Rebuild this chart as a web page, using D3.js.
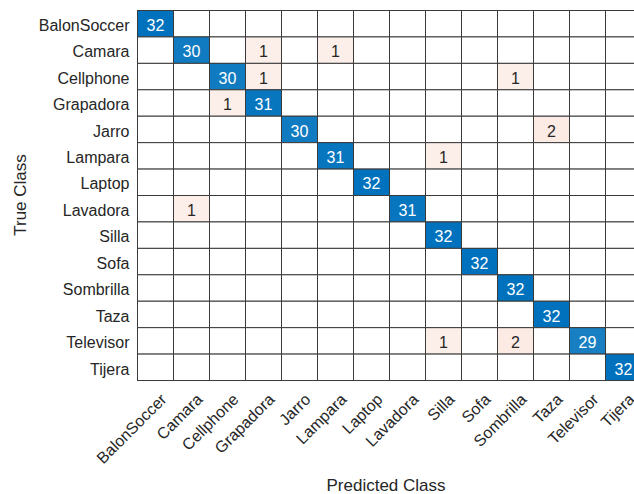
<!DOCTYPE html>
<html>
<head>
<meta charset="utf-8">
<script src="https://cdn.jsdelivr.net/npm/d3@7"></script>
<style>
body{margin:0;background:#fff;}
svg{display:block;}
text{font-family:"Liberation Sans",Arial,Helvetica,sans-serif;}
</style>
</head>
<body>
<svg id="c" width="634" height="494"></svg>
<script>
const classes = ["BalonSoccer","Camara","Cellphone","Grapadora","Jarro","Lampara","Laptop","Lavadora","Silla","Sofa","Sombrilla","Taza","Televisor","Tijera"];
const rowBalonSoccer = [32,0,0,0,0,0,0,0,0,0,0,0,0,0];
const rowCamara      = [0,30,0,1,0,1,0,0,0,0,0,0,0,0];
const rowCellphone   = [0,0,30,1,0,0,0,0,0,0,1,0,0,0];
const rowGrapadora   = [0,0,1,31,0,0,0,0,0,0,0,0,0,0];
const rowJarro       = [0,0,0,0,30,0,0,0,0,0,0,2,0,0];
const rowLampara     = [0,0,0,0,0,31,0,0,1,0,0,0,0,0];
const rowLaptop      = [0,0,0,0,0,0,32,0,0,0,0,0,0,0];
const rowLavadora    = [0,1,0,0,0,0,0,31,0,0,0,0,0,0];
const rowSilla       = [0,0,0,0,0,0,0,0,32,0,0,0,0,0];
const rowSofa        = [0,0,0,0,0,0,0,0,0,32,0,0,0,0];
const rowSombrilla   = [0,0,0,0,0,0,0,0,0,0,32,0,0,0];
const rowTaza        = [0,0,0,0,0,0,0,0,0,0,0,32,0,0];
const rowTelevisor   = [0,0,0,0,0,0,0,0,1,0,2,0,29,0];
const rowTijera      = [0,0,0,0,0,0,0,0,0,0,0,0,0,32];
const counts = [rowBalonSoccer,rowCamara,rowCellphone,rowGrapadora,rowJarro,rowLampara,rowLaptop,rowLavadora,rowSilla,rowSofa,rowSombrilla,rowTaza,rowTelevisor,rowTijera];

const svg = d3.select("#c");
const mLeft = 137.5, mTop = 10.5, cw = 36, ch = 26.43;
const x = d3.scaleBand().domain(classes).range([mLeft, mLeft + cw*classes.length]);
const y = d3.scaleBand().domain(classes).range([mTop, mTop + ch*classes.length]);

const diagColor = d3.scaleLinear().domain([0,32]).range(["#ffffff","#0072bd"]);
const offColor = d3.scaleLinear().domain([0,1,2]).range(["#ffffff","#fcefe9","#fbebe4"]);

const cells = [];
counts.forEach((row,i)=>row.forEach((v,j)=>cells.push({t:classes[i],p:classes[j],v,diag:i===j})));

const g = svg.append("g");
g.selectAll("rect").data(cells).join("rect")
  .attr("x",d=>x(d.p)).attr("y",d=>y(d.t))
  .attr("width",x.bandwidth()).attr("height",y.bandwidth())
  .attr("fill",d=>d.v===0?"#fff":(d.diag?diagColor(d.v):offColor(d.v)))
  .attr("stroke","#3a3a3a").attr("stroke-width",1);

g.selectAll("text.v").data(cells.filter(d=>d.v>0)).join("text")
  .attr("class","v")
  .attr("x",d=>x(d.p)+x.bandwidth()/2)
  .attr("y",d=>y(d.t)+y.bandwidth()/2)
  .attr("dy","0.45em")
  .attr("text-anchor","middle")
  .attr("font-size","16px")
  .attr("fill",d=>d.diag?"#ffffff":"#262626")
  .text(d=>d.v);

// y axis labels
const ya = svg.append("g").attr("transform",`translate(${mLeft},0)`)
  .call(d3.axisLeft(y).tickSize(0).tickPadding(8));
ya.select(".domain").remove();
ya.selectAll("text").attr("font-size","16px").attr("dy","0.45em")
  .attr("fill","#262626").attr("font-family","Liberation Sans, Arial, sans-serif");

// x axis labels
const xa = svg.append("g").attr("transform",`translate(0,${mTop + ch*classes.length})`)
  .call(d3.axisBottom(x).tickSize(0).tickPadding(0));
xa.select(".domain").remove();
xa.selectAll("text").attr("font-size","16px")
  .attr("fill","#262626").attr("font-family","Liberation Sans, Arial, sans-serif")
  .attr("text-anchor","end")
  .attr("dy","0.35em")
  .attr("transform","translate(8,16) rotate(-45)");

svg.append("text").attr("x",386).attr("y",491).attr("text-anchor","middle")
  .attr("font-size","17px").attr("fill","#262626")
  .text("Predicted Class");
svg.append("text").attr("transform",`translate(25.5,195) rotate(-90)`).attr("text-anchor","middle")
  .attr("font-size","17px").attr("fill","#262626")
  .text("True Class");
</script>
</body>
</html>
